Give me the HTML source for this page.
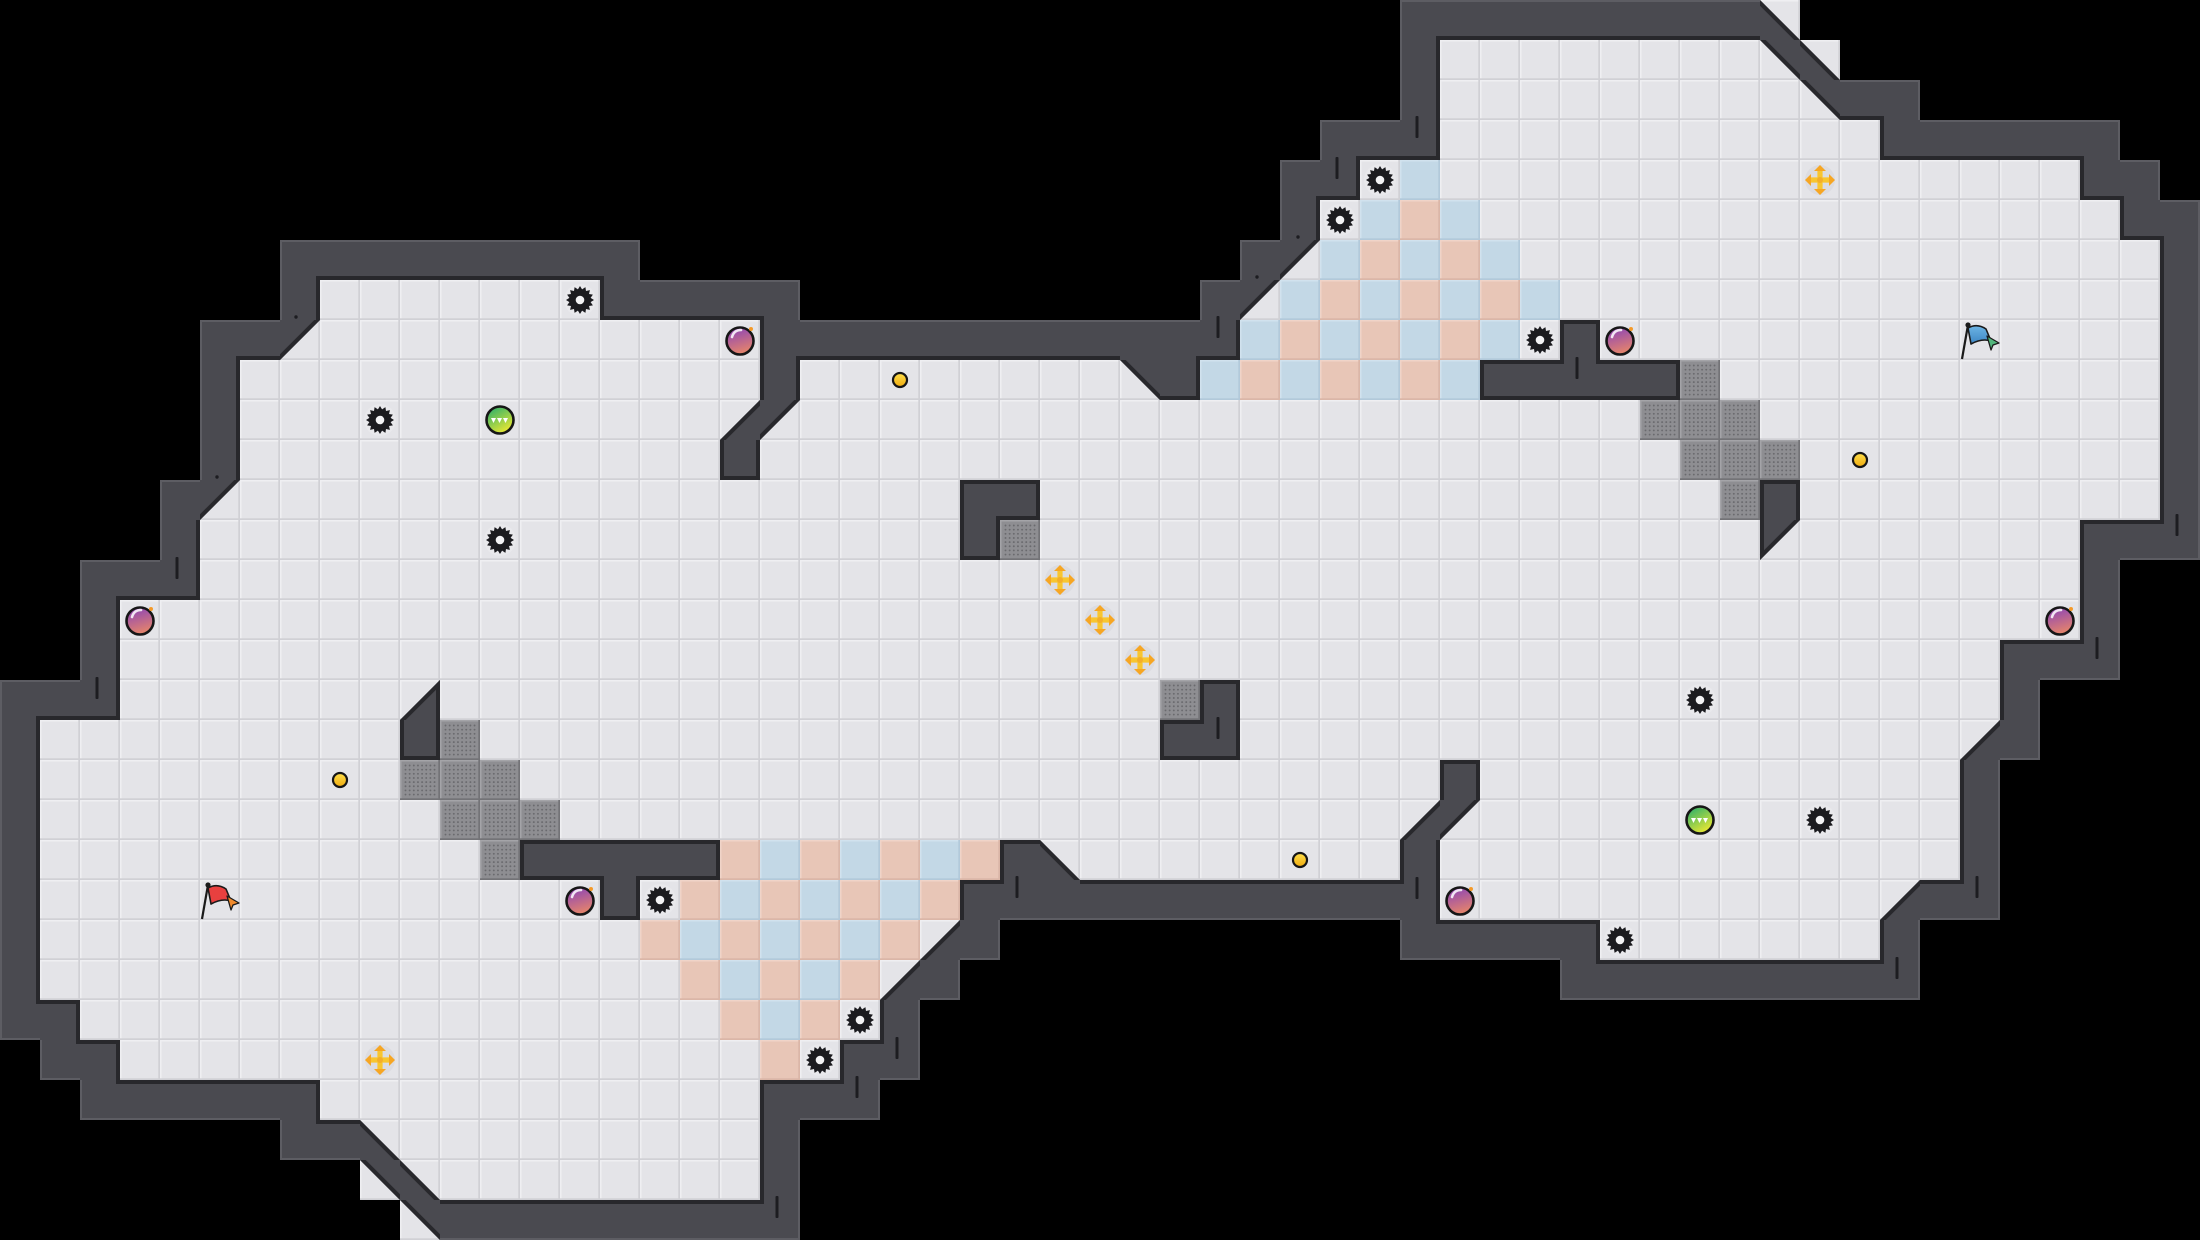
<!DOCTYPE html>
<html><head><meta charset="utf-8">
<style>
html,body{margin:0;padding:0;background:#000;width:2200px;height:1240px;overflow:hidden}
#c{width:2200px;height:1240px}
svg{display:block}
</style></head>
<body><div id="c"></div>
<script>
(function(){
const W=55,H=31,T=40;
const g=[];for(let r=0;r<H;r++)g.push(new Array(W).fill(' '));
function S(r,c,s){for(let i=0;i<s.length;i++)g[r][c+i]=s[i];}
function F(r,a,b,ch){for(let c=a;c<=b;c++)g[r][c]=ch;}

F(0,35,43,'#');S(0,44,'C');
S(1,35,'#');F(1,36,43,'.');S(1,44,'BC');
S(2,35,'#');F(2,36,44,'.');S(2,45,'B##');
F(3,33,35,'#');F(3,36,46,'.');F(3,47,52,'#');
S(4,32,'##sb');F(4,36,51,'.');S(4,45,'+');S(4,52,'##');
S(5,32,'#sbpb');F(5,37,52,'.');S(5,53,'##');
F(6,7,15,'#');S(6,31,'#Abpbpb');F(6,38,53,'.');S(6,54,'#');
S(7,7,'#');F(7,8,13,'.');S(7,14,'s');F(7,15,19,'#');S(7,30,'#Abpbpbpb');F(7,39,53,'.');S(7,54,'#');
S(8,5,'##A');F(8,8,17,'.');S(8,18,'o');F(8,19,30,'#');S(8,31,'bpbpbpbs#o');F(8,41,53,'.');S(8,49,'L');S(8,54,'#');
S(9,5,'#');F(9,6,18,'.');S(9,19,'#');F(9,20,27,'.');S(9,22,'y');S(9,28,'B#bpbpbpb');F(9,37,41,'#');S(9,42,'g');F(9,43,53,'.');S(9,54,'#');
S(10,5,'#');F(10,6,17,'.');S(10,9,'s');S(10,12,'G');S(10,18,'DA');F(10,20,40,'.');S(10,41,'ggg');F(10,44,53,'.');S(10,54,'#');
S(11,5,'#');F(11,6,17,'.');S(11,18,'#');F(11,19,41,'.');S(11,42,'ggg');F(11,45,53,'.');S(11,46,'y');S(11,54,'#');
S(12,4,'#A');F(12,6,23,'.');S(12,24,'##');F(12,26,42,'.');S(12,43,'g#');F(12,45,53,'.');S(12,54,'#');
S(13,4,'#');F(13,5,23,'.');S(13,12,'s');S(13,24,'#g');F(13,26,43,'.');S(13,44,'A');F(13,45,51,'.');F(13,52,54,'#');
F(14,2,4,'#');F(14,5,51,'.');S(14,26,'+');S(14,52,'#');
S(15,2,'#o');F(15,4,50,'.');S(15,27,'+');S(15,51,'o#');
S(16,2,'#');F(16,3,49,'.');S(16,28,'+');F(16,50,52,'#');
F(17,0,2,'#');F(17,3,49,'.');S(17,10,'D');S(17,29,'g#');S(17,42,'s');S(17,50,'#');
S(18,0,'#');F(18,1,48,'.');S(18,10,'#g');S(18,29,'##');S(18,49,'D#');
S(19,0,'#');F(19,1,48,'.');S(19,8,'y');S(19,10,'ggg');S(19,36,'#');S(19,49,'#');
S(20,0,'#');F(20,1,48,'.');S(20,11,'ggg');S(20,35,'DA');S(20,42,'G');S(20,45,'s');S(20,49,'#');
S(21,0,'#');F(21,1,48,'.');S(21,12,'g#####pbpbpbp#C');S(21,32,'y');S(21,35,'#');S(21,49,'#');
S(22,0,'#');F(22,1,46,'.');S(22,5,'R');S(22,14,'o#spbpbpbp');F(22,24,35,'#');S(22,36,'o');S(22,47,'D##');
S(23,0,'#');F(23,1,15,'.');S(23,16,'pbpbpbpD#');F(23,35,39,'#');S(23,40,'s');F(23,41,46,'.');S(23,47,'#');
S(24,0,'#');F(24,1,16,'.');S(24,17,'pbpbpD#');F(24,39,47,'#');
S(25,0,'##');F(25,2,17,'.');S(25,18,'pbps#');
S(26,1,'##');F(26,3,18,'.');S(26,9,'+');S(26,19,'ps##');
F(27,2,7,'#');F(27,8,18,'.');F(27,19,21,'#');
S(28,7,'##C');F(28,10,18,'.');S(28,19,'#');
S(29,9,'BC');F(29,11,18,'.');S(29,19,'#');
S(30,10,'B');F(30,11,19,'#');

const WS={'#':[1,1,1,1],A:[1,0,0,1],B:[1,1,0,0],C:[0,0,1,1],D:[0,1,1,0]};
const isW=ch=>ch==='#'||ch==='A'||ch==='B'||ch==='C'||ch==='D';
const at=(r,c)=>(r<0||c<0||r>=H||c>=W)?' ':g[r][c];
const side=(r,c,d)=>{const t=at(r,c);if(t===' ')return 'E';const w=WS[t];return (w&&w[d])?'W':'F';};
const DR=[-1,0,1,0],DC=[0,1,0,-1];
const WALL='#4a4a50',DARK='#28282c',RIM='#5d5d63';

let dots='';
for(let i=0;i<8;i++)for(let j=0;j<8;j++)dots+=`<circle cx="${(5.5+i*4.15).toFixed(2)}" cy="${(5.5+j*4.15).toFixed(2)}" r="0.95" fill="#6a6a6e"/>`;
function pat(id,base,hi,lo,extra){return `<pattern id="${id}" width="40" height="40" patternUnits="userSpaceOnUse"><rect width="40" height="40" fill="${base}"/><rect width="40" height="1.5" fill="${hi}"/><rect width="1.5" height="40" fill="${hi}"/><rect y="38.3" width="40" height="1.7" fill="${lo}"/><rect x="38.3" width="1.7" height="40" fill="${lo}"/>${extra||''}</pattern>`;}
const defs=`<defs>${pat('fl','#e4e4e8','#efeff2','#d0d0d5')}${pat('pp','#e8c6b7','#f0d4c8','#dbb6a7')}${pat('pb','#c3d8e6','#d1e2ee','#b2c9da')}${pat('pg','#8e8e92','#a4a4a8','#737377',dots)}
<linearGradient id="bm" x1="0.2" y1="0" x2="0.5" y2="1"><stop offset="0" stop-color="#8a43b9"/><stop offset="1" stop-color="#e7856a"/></linearGradient>
<linearGradient id="gb" x1="0.1" y1="0" x2="0.7" y2="1"><stop offset="0" stop-color="#23ad6e"/><stop offset="1" stop-color="#f0ea30"/></linearGradient>
<linearGradient id="yd" x1="0" y1="0" x2="0" y2="1"><stop offset="0" stop-color="#ffe04a"/><stop offset="1" stop-color="#efaa10"/></linearGradient>
<linearGradient id="bf" x1="0" y1="0" x2="0" y2="1"><stop offset="0" stop-color="#6cb4e4"/><stop offset="1" stop-color="#3d86c4"/></linearGradient>
</defs>`;

const o=[];
for(let r=0;r<H;r++)for(let c=0;c<W;c++){
  const t=g[r][c];if(t===' '||t==='#')continue;
  const x=c*T,y=r*T;
  if('ABCD'.includes(t)){continue;}
  const f=t==='p'?'url(#pp)':t==='b'?'url(#pb)':t==='g'?'url(#pg)':'url(#fl)';
  o.push(`<rect x="${x}" y="${y}" width="40" height="40" fill="${f}"/>`);
}
for(let r=0;r<H;r++)for(let c=0;c<W;c++){
  const t=g[r][c];if(!isW(t))continue;
  o.push(`<rect x="${c*T}" y="${r*T}" width="40" height="40" fill="${WALL}"/>`);
}
for(let r=0;r<H;r++)for(let c=0;c<W;c++){
  const t=g[r][c];if(!isW(t))continue;
  const x=c*T,y=r*T,w=WS[t];
  for(let d=0;d<4;d++){
    if(!w[d])continue;
    const n=side(r+DR[d],c+DC[d],(d+2)%4);
    if(n==='W')continue;
    const k=n==='F'?4:2,col=n==='F'?DARK:RIM;
    let rx,ry,rw,rh;
    if(d===0){rx=x;ry=y;rw=40;rh=k;}
    else if(d===1){rx=x+40-k;ry=y;rw=k;rh=40;}
    else if(d===2){rx=x;ry=y+40-k;rw=40;rh=k;}
    else {rx=x;ry=y;rw=k;rh=40;}
    o.push(`<rect x="${rx}" y="${ry}" width="${rw}" height="${rh}" fill="${col}"/>`);
  }
  if(t==='#'){
    for(const [dr,dc] of [[-1,-1],[-1,1],[1,-1],[1,1]]){
      const v=at(r+dr,c),h=at(r,c+dc),dg=at(r+dr,c+dc);
      if(v==='#'&&h==='#'&&dg!==' '&&!isW(dg)){
        const cx=dc<0?x:x+36,cy=dr<0?y:y+36;
        o.push(`<rect x="${cx}" y="${cy}" width="4" height="4" fill="${DARK}"/>`);
      }
    }
  }
}
const k=5.66;
for(let r=0;r<H;r++)for(let c=0;c<W;c++){
  const t=g[r][c];if(!'ABCD'.includes(t))continue;
  const x=c*T,y=r*T;let fl,bd;
  if(t==='A'){fl=[[x+40,y],[x+40,y+40],[x,y+40]];bd=[[x+40,y],[x,y+40],[x,y+40-k],[x+40-k,y]];}
  if(t==='B'){fl=[[x,y],[x,y+40],[x+40,y+40]];bd=[[x,y],[x+40,y+40],[x+40,y+40-k],[x+k,y]];}
  if(t==='C'){fl=[[x,y],[x+40,y],[x+40,y+40]];bd=[[x,y],[x+40,y+40],[x+40-k,y+40],[x,y+k]];}
  if(t==='D'){fl=[[x,y],[x+40,y],[x,y+40]];bd=[[x+40,y],[x,y+40],[x+k,y+40],[x+40,y+k]];}
  const P=a=>a.map(p=>p[0].toFixed(1)+','+p[1].toFixed(1)).join(' ');
  o.push(`<polygon points="${P(fl)}" fill="url(#fl)"/>`);
  o.push(`<polygon points="${P(bd)}" fill="${DARK}"/>`);
}
const ticks=[[177,557],[97,677],[1017,876],[897,1037],[857,1076],[777,1196],[1417,116],[1337,157],[1218,316],[1577,357],[2177,514],[1218,717],[1417,877],[2097,637],[1977,876],[1897,957]];
for(const [tx,ty] of ticks)o.push(`<rect x="${tx-1.5}" y="${ty}" width="3" height="22" rx="1" fill="#1d1d21"/>`);
for(const [dx,dy] of [[296,317],[217,477],[1298,237],[1257,277]])o.push(`<circle cx="${dx}" cy="${dy}" r="1.7" fill="#1d1d21"/>`);

function spike(cx,cy){let p='';for(let i=0;i<32;i++){const a=i*Math.PI/16;const rr=i%2?10.8:14;p+=(i?'L':'M')+(cx+rr*Math.cos(a)).toFixed(1)+' '+(cy+rr*Math.sin(a)).toFixed(1);}
  return `<circle cx="${cx}" cy="${cy}" r="16" fill="#ededf0" opacity=".5"/><path d="${p}Z" fill="#1b1b1f"/><circle cx="${cx}" cy="${cy}" r="4.3" fill="#f2f2f4"/>`;}
function bomb(cx,cy){return `<circle cx="${cx}" cy="${cy+1}" r="13.5" fill="url(#bm)" stroke="#161616" stroke-width="2.6"/><path d="M${cx-8} ${cy-3} Q${cx-6} ${cy-10} ${cx+1} ${cy-10}" stroke="#fff" stroke-width="2.6" fill="none" stroke-linecap="round" opacity=".85"/><circle cx="${cx+11}" cy="${cy-11}" r="2" fill="#f49a2a"/>`;}
function green(cx,cy){return `<circle cx="${cx}" cy="${cy}" r="13.5" fill="url(#gb)" stroke="#161616" stroke-width="2.6"/><path d="M${cx-9} ${cy-2}h5l-2.5 5z M${cx-3} ${cy-2}h5l-2.5 5z M${cx+3} ${cy-2}h5l-2.5 5z" fill="#fff"/>`;}
function ydot(cx,cy){return `<circle cx="${cx}" cy="${cy}" r="7" fill="url(#yd)" stroke="#161616" stroke-width="2.2"/>`;}
function boost(cx,cy){return `<circle cx="${cx}" cy="${cy}" r="15" fill="#d6d6db" opacity=".55"/>`+
 `<path d="M${cx-10} ${cy-2.6}H${cx+10}V${cy+2.6}H${cx-10}Z M${cx-2.6} ${cy-10}H${cx+2.6}V${cy+10}H${cx-2.6}Z" fill="#f8c630"/>`+
 `<path d="M${cx+9} ${cy-6}L${cx+15} ${cy}L${cx+9} ${cy+6}Z M${cx-9} ${cy-6}L${cx-15} ${cy}L${cx-9} ${cy+6}Z M${cx-6} ${cy-9}L${cx} ${cy-15}L${cx+6} ${cy-9}Z M${cx-6} ${cy+9}L${cx} ${cy+15}L${cx+6} ${cy+9}Z" fill="#f6a623"/>`+
 `<circle cx="${cx}" cy="${cy}" r="3" fill="#f4ae2a"/>`;}
function flag(x,y,body,tail){return `<path d="M${x+2} ${y+39}L${x+8} ${y+5}" stroke="#1a1a1a" stroke-width="2.2"/><circle cx="${x+8}" cy="${y+5}" r="2.6" fill="#1a1a1a"/>`+
 `<path d="M${x+8} ${y+8}Q${x+17} ${y+3} ${x+26} ${y+9}L${x+31} ${y+21}Q${x+22} ${y+18} ${x+11} ${y+24}Z" fill="${body}" stroke="#1a1a1a" stroke-width="1.6" stroke-linejoin="round"/>`+
 `<path d="M${x+27} ${y+16}L${x+39} ${y+23}L${x+33} ${y+25}L${x+31} ${y+30}Z" fill="${tail}" stroke="#1a1a1a" stroke-width="1.3" stroke-linejoin="round"/>`;}

for(let r=0;r<H;r++)for(let c=0;c<W;c++){
  const t=g[r][c];const x=c*T,y=r*T,cx=x+20,cy=y+20;
  if(t==='s')o.push(spike(cx,cy));
  else if(t==='o')o.push(bomb(cx,cy));
  else if(t==='G')o.push(green(cx,cy));
  else if(t==='y')o.push(ydot(cx,cy));
  else if(t==='+')o.push(boost(cx,cy));
  else if(t==='R')o.push(flag(x,y,'#e8403f','#f08a2c'));
  else if(t==='L')o.push(flag(x,y,'url(#bf)','#52b57c'));
}

document.getElementById('c').innerHTML=`<svg xmlns="http://www.w3.org/2000/svg" width="2200" height="1240" viewBox="0 0 2200 1240"><rect width="2200" height="1240" fill="#000"/>${defs}${o.join('')}</svg>`;
})();
</script>
</body></html>
